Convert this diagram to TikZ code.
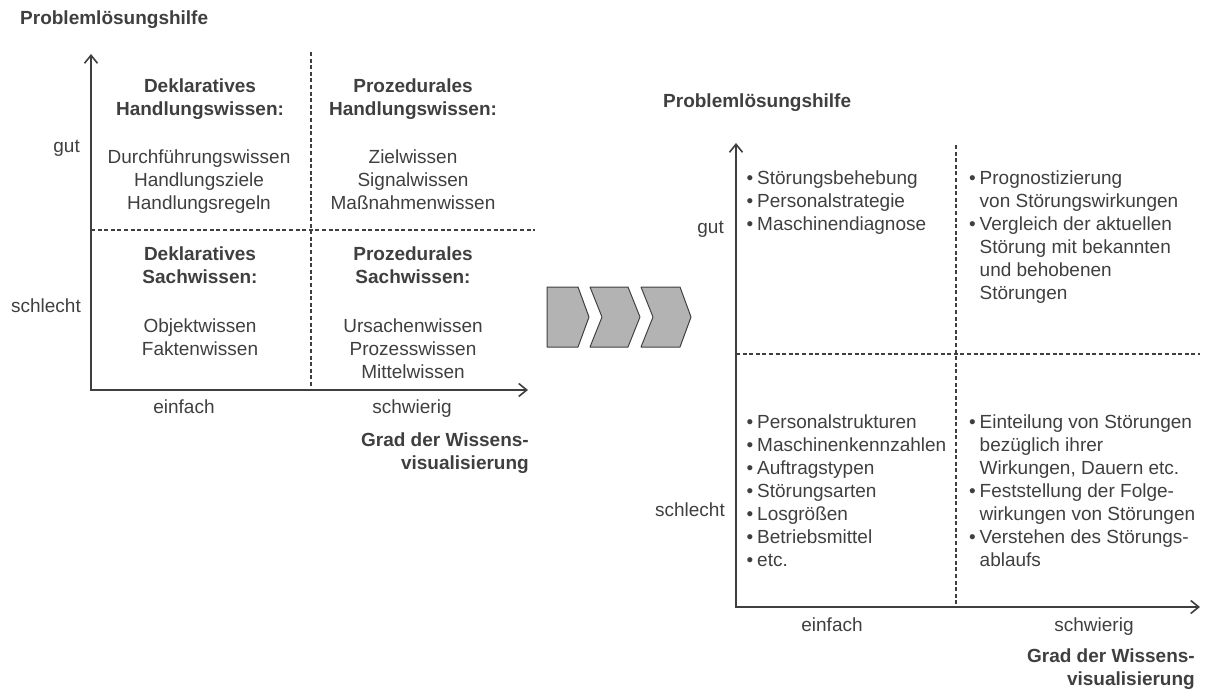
\documentclass[tikz,border=0pt]{standalone}
\usepackage{fontspec}
\setmainfont{Liberation Sans}
\usetikzlibrary{arrows.meta}
\definecolor{txtgray}{HTML}{3F3F3F}
\definecolor{chevgray}{HTML}{B3B3B3}
\newcommand{\figfont}{\fontsize{19}{23}\selectfont}
\newcommand{\strt}{\rule{0pt}{18pt}}
\newcommand{\bli}{\makebox[10.5pt][l]{\textbullet}}
\newcommand{\blind}{\hspace*{10.5pt}}
\tikzset{
	txt/.style={font=\figfont,text=txtgray,inner sep=0pt,align=center,anchor=north},
	hd/.style={txt,font=\figfont\bfseries},
	lbl/.style={txt,align=right,anchor=north east},
	lst/.style={txt,align=left,anchor=north west},
	axis/.style={draw=txtgray,line width=1.6pt,
		{Straight Barb[length=8pt,width=13pt]}-{Straight Barb[length=8pt,width=13pt]}},
	grid/.style={draw=txtgray,line width=1.2pt,dash pattern=on 4pt off 2.6pt},
	chev/.style={draw=txtgray,fill=chevgray,line width=1pt,line join=round}
}
\begin{document}
\begin{tikzpicture}[x=1pt,y=-1pt]
	\useasboundingbox (0,0) rectangle (1210,690);

	\node [hd,anchor=north west] (titleL) at (20,6) {\strt Problemlösungshilfe};
	\node [lbl] (gutL) at (80,134) {\strt gut};
	\node [lbl] (schlechtL) at (81,294) {\strt schlecht};
	\node [hd] (dhL) at (200,74) {\strt Deklaratives\\Handlungswissen:};
	\node [txt] (dhListL) at (199,145) {\strt Durchführungswissen\\Handlungsziele\\Handlungsregeln};
	\node [hd] (phL) at (413,74) {\strt Prozedurales\\Handlungswissen:};
	\node [txt] (phListL) at (413,145) {\strt Zielwissen\\Signalwissen\\Maßnahmenwissen};
	\node [hd] (dsL) at (200,242) {\strt Deklaratives\\Sachwissen:};
	\node [txt] (dsListL) at (200,314) {\strt Objektwissen\\Faktenwissen};
	\node [hd] (psL) at (413,242) {\strt Prozedurales\\Sachwissen:};
	\node [txt] (psListL) at (413,314) {\strt Ursachenwissen\\Prozesswissen\\Mittelwissen};
	\node [txt] (einfachL) at (184,395) {\strt einfach};
	\node [txt] (schwierigL) at (412,395) {\strt schwierig};
	\node [hd,align=right,anchor=north east] (gradL) at (529,428) {\strt Grad der Wissens-\\visualisierung};

	\draw [grid] (311,52) -- (311,390);
	\draw [grid] (91,230) -- (535,230);
	\draw [axis] (91,54) |- (528,390);

	\draw [chev] (547,287) -- (578,287) -- (589,317) -- (578,347) -- (547,347) -- cycle;
	\draw [chev] (590,287) -- (628,287) -- (640,317) -- (628,347) -- (590,347) -- (602,317) -- cycle;
	\draw [chev] (641,287) -- (680,287) -- (691,317) -- (680,347) -- (641,347) -- (653,317) -- cycle;

	\node [hd,anchor=north west] (titleR) at (663,89) {\strt Problemlösungshilfe};
	\node [lbl] (gutR) at (724,215) {\strt gut};
	\node [lbl] (schlechtR) at (725,498) {\strt schlecht};
	\node [lst] (ulR) at (746.5,166) {\strt\bli Störungsbehebung\\\bli Personalstrategie\\\bli Maschinendiagnose};
	\node [lst] (urR) at (969,166) {\strt\bli Prognostizierung\\\blind von Störungswirkungen\\\bli Vergleich der aktuellen\\\blind Störung mit bekannten\\\blind und behobenen\\\blind Störungen};
	\node [lst] (llR) at (746.5,410) {\strt\bli Personalstrukturen\\\bli Maschinenkennzahlen\\\bli Auftragstypen\\\bli Störungsarten\\\bli Losgrößen\\\bli Betriebsmittel\\\bli etc.};
	\node [lst] (lrR) at (969,410) {\strt\bli Einteilung von Störungen\\\blind bezüglich ihrer\\\blind Wirkungen, Dauern etc.\\\bli Feststellung der Folge-\\\blind wirkungen von Störungen\\\bli Verstehen des Störungs-\\\blind ablaufs};
	\node [txt] (einfachR) at (832,613) {\strt einfach};
	\node [txt] (schwierigR) at (1094,613) {\strt schwierig};
	\node [hd,align=right,anchor=north east] (gradR) at (1195,644) {\strt Grad der Wissens-\\visualisierung};

	\draw [grid] (956,145) -- (956,607);
	\draw [grid] (736,354) -- (1200,354);
	\draw [axis] (736,143) |- (1200,607);
\end{tikzpicture}
\end{document}
